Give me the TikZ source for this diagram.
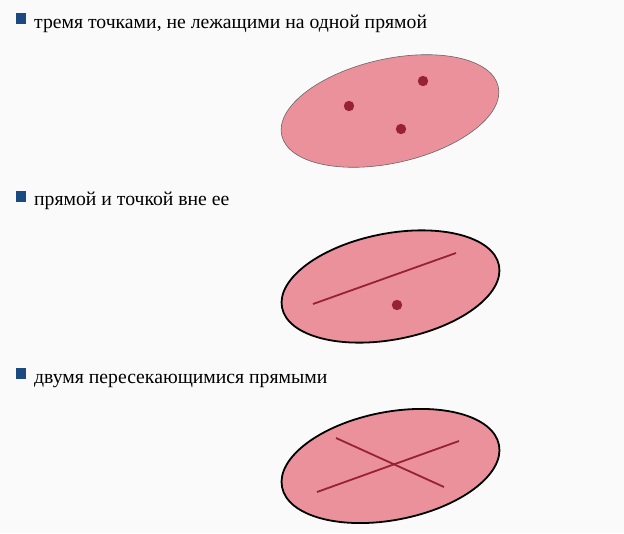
\documentclass[tikz,border=0pt]{standalone}
\usepackage{fontspec}
\setmainfont{Liberation Serif}
\definecolor{bg}{HTML}{FAFAFA}
\definecolor{bulletblue}{HTML}{1B4A80}
\definecolor{pinkfill}{RGB}{235,145,155}
\definecolor{darkred}{RGB}{150,34,52}
\begin{document}
\begin{tikzpicture}[x=1pt,y=-1pt,
  label/.style={anchor=base west,inner sep=0pt,font=\fontsize{19.7}{23}\selectfont,text=black},
  bullet/.style={fill=bulletblue},
  plane/.style={fill=pinkfill},
  planethin/.style={plane,draw=gray!80!black,line width=0.6pt},
  planethick/.style={plane,draw=black,line width=1.8pt},
  pt/.style={fill=darkred},
  ln/.style={draw=darkred,line width=1.8pt}]
\fill[bg] (0,0) rectangle (624,533);
\useasboundingbox (0,0) rectangle (624,533);
% bullets and labels
\fill[bullet] (16,13) rectangle (26,24);
\node[label] (t1) at (34,28) {тремя точками, не лежащими на одной прямой};
\fill[bullet] (16,191) rectangle (26,202);
\node[label] (t2) at (34,205) {прямой и точкой вне ее};
\fill[bullet] (16,368) rectangle (26,379);
\node[label] (t3) at (34,383) {двумя пересекающимися прямыми};
% plane 1
\draw[planethin] (390,111) ellipse [x radius=111, y radius=52, rotate=12.7];
\fill[pt] (349,106) circle (5.2);
\fill[pt] (423,81) circle (5.2);
\fill[pt] (401,129) circle (5.2);
% plane 2
\draw[planethick] (390.5,286.5) ellipse [x radius=110.5, y radius=53, rotate=11];
\draw[ln] (313,304) -- (456,253);
\fill[pt] (397,305) circle (5.2);
% plane 3
\draw[planethick] (390.5,466) ellipse [x radius=110.5, y radius=54, rotate=11];
\draw[ln] (317,492) -- (459,441);
\draw[ln] (336,438) -- (444,487);
\end{tikzpicture}
\end{document}
